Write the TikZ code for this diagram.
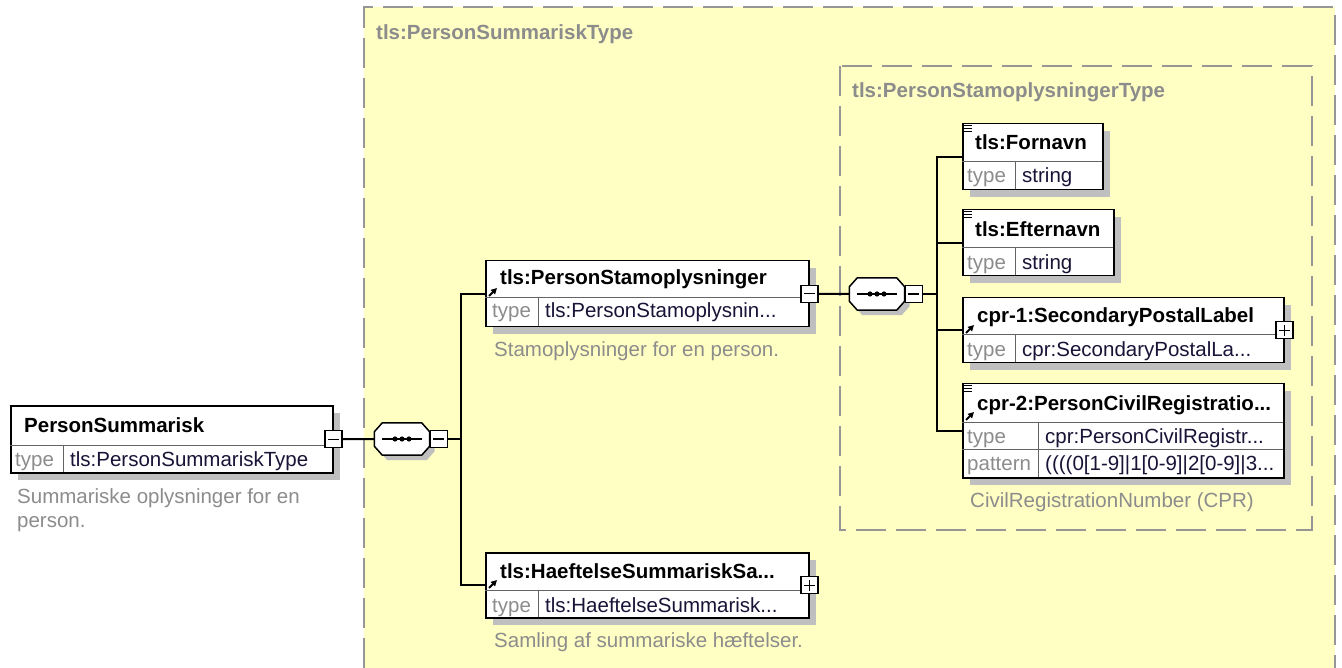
\documentclass[tikz,border=0pt]{standalone}
\usepackage{fontspec}
\setmainfont{Liberation Sans}
\usetikzlibrary{arrows.meta,shadows}

\definecolor{boxyellow}{RGB}{255,255,196}
\definecolor{dashgray}{RGB}{150,150,150}
\definecolor{txtgray}{RGB}{140,140,140}
\definecolor{rulegray}{RGB}{100,100,100}
\definecolor{valcol}{RGB}{25,20,55}

\newcommand{\diagfont}{\fontsize{20.5pt}{24pt}\selectfont}

\tikzset{
  elem/.style={draw=black, line width=1.5pt, fill=white, anchor=north west, inner sep=0pt,
    drop shadow={shadow xshift=7pt, shadow yshift=-7pt, fill=black!25, opacity=1}},
  ttl/.style={anchor=base west, inner sep=0pt, font=\diagfont\bfseries},
  lbl/.style={anchor=base west, inner sep=0pt, text=txtgray},
  val/.style={anchor=base west, inner sep=0pt, text=valcol},
  note/.style={anchor=base west, inner sep=0pt, text=txtgray},
  grouplbl/.style={anchor=base west, inner sep=0pt, text=txtgray, font=\diagfont\bfseries},
  group/.style={draw=dashgray, line width=2pt, dash pattern=on 30pt off 10pt},
  sep/.style={draw=rulegray, line width=1pt},
  wire/.style={draw=black, line width=2pt},
  minus/.style={draw=black, line width=1.4pt, fill=white, minimum size=17pt, inner sep=0pt,
    path picture={\draw[line width=1.3pt] ([xshift=3pt]path picture bounding box.west) -- ([xshift=-3pt]path picture bounding box.east);}},
  plus/.style={draw=black, line width=1.4pt, fill=white, minimum size=17pt, inner sep=0pt,
    path picture={\draw[line width=1.3pt] ([xshift=3pt]path picture bounding box.west) -- ([xshift=-3pt]path picture bounding box.east)
      ([yshift=-3pt]path picture bounding box.north) -- ([yshift=3pt]path picture bounding box.south);}},
  seqslot/.style={minimum width=55pt, minimum height=32pt, inner sep=0pt},
  seqshape/.style={draw=black, line width=1.5pt, fill=white,
    drop shadow={shadow xshift=5pt, shadow yshift=-5pt, fill=black!25, opacity=1}},
  refarrow/.style={line width=2pt, -{Triangle[length=6pt,width=6pt]}},
  simple/.style={line width=1.2pt}
}

% octagon of a sequence compositor, drawn round a named slot
\newcommand{\seqsym}[1]{%
  \draw[seqshape] ([xshift=8pt]#1.north west) -- ([xshift=-8pt]#1.north east)
    -- ([yshift=-9pt]#1.north east) -- ([yshift=9pt]#1.south east)
    -- ([xshift=-8pt]#1.south east) -- ([xshift=8pt]#1.south west)
    -- ([yshift=9pt]#1.south west) -- ([yshift=-9pt]#1.north west) -- cycle;
  \draw[line width=1.5pt] ([xshift=8pt]#1.west) -- ([xshift=-8pt]#1.east);
  \foreach \dx in {-7,0,7} \fill ([xshift=\dx pt]#1.center) circle (2.6pt);
}

\begin{document}
\begin{tikzpicture}[x=1pt,y=-1pt,font=\diagfont]
\useasboundingbox (0,0) rectangle (1342,668);
\fill[white] (0,0) rectangle (1342,668);

% complex type groups
\fill[boxyellow] (364,7) rectangle (1335,668);
\draw[group] (364,668) -- (364,7) -- (1335,7) -- (1335,668);
\node[grouplbl] (outerlbl) at (376,40) {tls:PersonSummariskType};
\draw[group] (840,66) rectangle (1312,530);
\node[grouplbl] (innerlbl) at (852,98) {tls:PersonStamoplysningerType};

% root element
\node[elem, minimum width=322pt, minimum height=67pt] (ps) at (10,405) {};
\draw[sep] (10,445) -- (332,445) (63,445) -- (63,472);
\node[ttl] (psname) at (24,432) {PersonSummarisk};
\node[lbl] (pstype) at (15,466) {type};
\node[val] (psval) at (70,466) {tls:PersonSummariskType};
\node[note] (psnote1) at (17,503) {Summariske oplysninger for en};
\node[note] (psnote2) at (17,527) {person.};
\node[minus] (psM) at (ps.east) {};

% first sequence
\node[seqslot] (seq1) at (402,439) {};
\seqsym{seq1}
\node[minus, anchor=west] (seq1M) at (seq1.east) {};
\coordinate (j1) at (461,439);

% tls:PersonStamoplysninger
\node[elem, minimum width=323pt, minimum height=66pt] (stam) at (485,260) {};
\draw[sep] (485,298) -- (808,298) (538,298) -- (538,326);
\node[ttl] (stamname) at (500,285) {tls:PersonStamoplysninger};
\node[lbl] (stamtype) at (492,318) {type};
\node[val] (stamval) at (545,318) {tls:PersonStamoplysnin...};
\node[note] (stamnote) at (494,356) {Stamoplysninger for en person.};
\draw[refarrow] (489,296) -- (497,288);
\node[minus] (stamM) at (stam.east) {};

% tls:HaeftelseSummariskSamling
\node[elem, minimum width=323pt, minimum height=65pt] (haef) at (485,552) {};
\draw[sep] (485,590) -- (808,590) (538,590) -- (538,617);
\node[ttl] (haefname) at (500,578) {tls:HaeftelseSummariskSa...};
\node[lbl] (haeftype) at (492,612) {type};
\node[val] (haefval) at (545,612) {tls:HaeftelseSummarisk...};
\node[note] (haefnote) at (494,647) {Samling af summariske hæftelser.};
\draw[refarrow] (489,588) -- (497,580);
\node[plus] (haefP) at (haef.east) {};

% second sequence
\node[seqslot] (seq2) at (877,294) {};
\seqsym{seq2}
\node[minus, anchor=west] (seq2M) at (seq2.east) {};
\coordinate (j2) at (937,294);

% tls:Fornavn
\node[elem, minimum width=140pt, minimum height=66pt] (forn) at (962,123) {};
\draw[sep] (962,162) -- (1102,162) (1015,162) -- (1015,189);
\node[ttl] (fornname) at (975,150) {tls:Fornavn};
\node[lbl] (forntype) at (967,183) {type};
\node[val] (fornval) at (1022,183) {string};
\draw[simple] (964,125.5) -- (972,125.5) (964,128.5) -- (972,128.5) (964,131.5) -- (972,131.5);

% tls:Efternavn
\node[elem, minimum width=151pt, minimum height=66pt] (eftn) at (962,209) {};
\draw[sep] (962,248) -- (1113,248) (1015,248) -- (1015,275);
\node[ttl] (eftnname) at (975,237) {tls:Efternavn};
\node[lbl] (eftntype) at (967,270) {type};
\node[val] (eftnval) at (1022,270) {string};
\draw[simple] (964,211.5) -- (972,211.5) (964,214.5) -- (972,214.5) (964,217.5) -- (972,217.5);

% cpr-1:SecondaryPostalLabel
\node[elem, minimum width=321pt, minimum height=65pt] (cpra) at (962,297) {};
\draw[sep] (962,335) -- (1283,335) (1015,335) -- (1015,362);
\node[ttl] (cpraname) at (977,323) {cpr-1:SecondaryPostalLabel};
\node[lbl] (cpratype) at (967,357) {type};
\node[val] (cpraval) at (1022,357) {cpr:SecondaryPostalLa...};
\draw[refarrow] (966,333) -- (974,325);
\node[plus] (cpraP) at (cpra.east) {};

% cpr-2:PersonCivilRegistrationIdentifier
\node[elem, minimum width=321pt, minimum height=94pt] (cprb) at (962,383) {};
\draw[sep] (962,422) -- (1283,422) (962,449) -- (1283,449) (1038,422) -- (1038,477);
\node[ttl] (cprbname) at (977,410) {cpr-2:PersonCivilRegistratio...};
\node[lbl] (cprbtype) at (967,443) {type};
\node[val] (cprbval) at (1045,443) {cpr:PersonCivilRegistr...};
\node[lbl] (cprbpat) at (967,470) {pattern};
\node[val] (cprbpatval) at (1045,470) {((((0[1-9]|1[0-9]|2[0-9]|3...};
\node[note] (cprbnote) at (970,507) {CivilRegistrationNumber (CPR)};
\draw[refarrow] (966,420) -- (974,412);
\draw[simple] (964,385.5) -- (972,385.5) (964,388.5) -- (972,388.5) (964,391.5) -- (972,391.5);

% connectors
\draw[wire] (psM.east) -- (seq1.west);
\draw[wire] (seq1M.east) -- (j1);
\draw[wire] (j1) |- (stam.west);
\draw[wire] (j1) |- (haef.west);
\draw[wire] (stamM.east) -- (seq2.west);
\draw[wire] (seq2M.east) -- (j2);
\draw[wire] (j2) |- (forn.west);
\draw[wire] (j2) |- (eftn.west);
\draw[wire] (j2) |- (cpra.west);
\draw[wire] (j2) |- (cprb.west);
\end{tikzpicture}
\end{document}
